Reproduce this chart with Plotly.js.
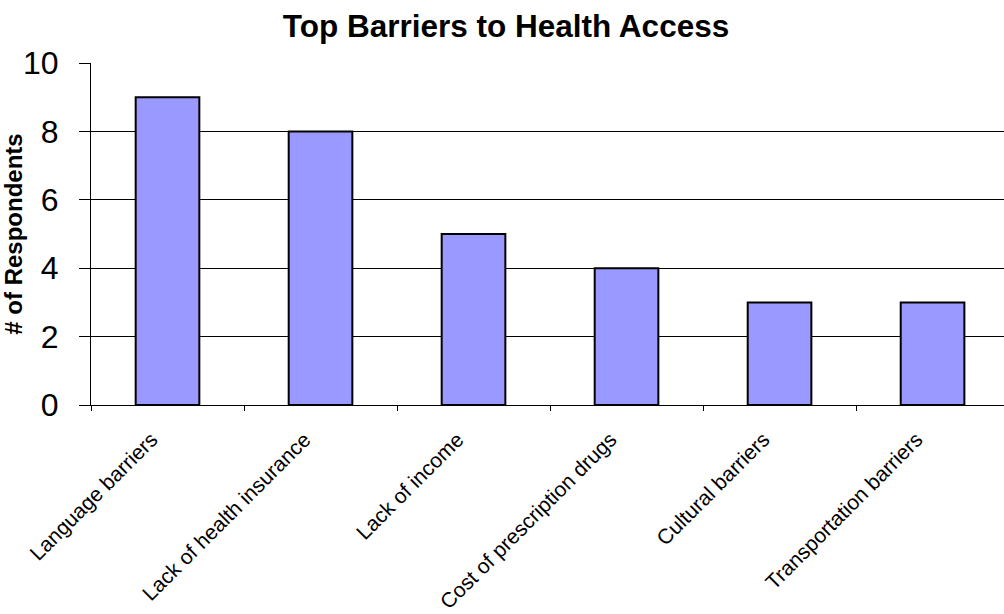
<!DOCTYPE html>
<html>
<head>
<meta charset="utf-8">
<script src="https://cdn.plot.ly/plotly-3.0.1.min.js"></script>
<style>html,body{margin:0;padding:0;background:#fff}#chart{width:1004px;height:614px}</style>
</head>
<body>
<div id="chart"></div>
<script>
var categories = ["Language barriers", "Lack of health insurance", "Lack of income", "Cost of prescription drugs", "Cultural barriers", "Transportation barriers"];
var respondents = [9, 8, 5, 4, 3, 3];
var yTicks = [0, 2, 4, 6, 8, 10];
var chartTitle = "Top Barriers to Health Access";
var yTitle = "# of Respondents";

var FONT = "Liberation Sans, Arial, sans-serif";

Plotly.newPlot("chart", [{
  type: "bar",
  x: categories,
  y: respondents,
  marker: {color: "#9999FF", line: {color: "#000000", width: 2}},
  hoverinfo: "x+y"
}], {
  width: 1004,
  height: 614,
  paper_bgcolor: "#ffffff",
  plot_bgcolor: "#ffffff",
  margin: {l: 91, r: 0, t: 63, b: 209},
  bargap: 0.584,
  showlegend: false,
  title: {
    text: "<b>" + chartTitle + "</b>",
    font: {family: FONT, size: 31.5, color: "#000"},
    x: 0.504, xanchor: "center",
    y: 0.958, yanchor: "middle", yref: "container"
  },
  xaxis: {
    type: "category",
    range: [-0.5, 5.467],
    showline: true, linecolor: "#000", linewidth: 1,
    ticks: "outside", tickson: "boundaries", ticklen: 5, tickcolor: "#000", tickwidth: 1,
    tickangle: -45,
    ticklabelstandoff: 13,
    ticklabelshift: -16,
    tickfont: {family: FONT, size: 21, color: "#000"},
    showgrid: false,
    zeroline: false
  },
  yaxis: {
    range: [0, 10],
    tickvals: yTicks,
    ticktext: yTicks.map(String),
    showline: true, linecolor: "#000", linewidth: 1,
    ticks: "outside", ticklen: 11, tickcolor: "#000", tickwidth: 1,
    ticklabelstandoff: 14,
    tickfont: {family: FONT, size: 32, color: "#000"},
    showgrid: true, gridcolor: "#000", gridwidth: 1,
    zeroline: false,
    title: {text: "<b>" + yTitle + "</b>", font: {family: FONT, size: 24, color: "#000"}, standoff: 5}
  }
}, {staticPlot: true});
</script>
</body>
</html>
